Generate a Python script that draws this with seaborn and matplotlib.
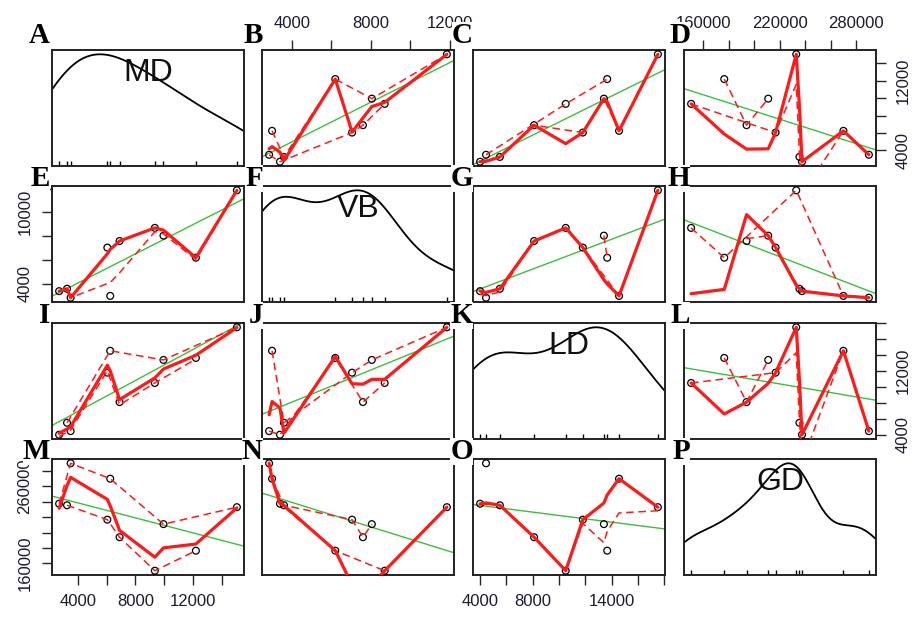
import numpy as np
import pandas as pd
import seaborn as sns
import matplotlib.pyplot as plt

MD = [2700, 3250, 3500, 6050, 6250, 6900, 9350, 9950, 12200, 15050]
VB = [3400, 3600, 2850, 7050, 3000, 7600, 8700, 8050, 6200, 11850]
LD = [4000, 5500, 4450, 11800, 14550, 8100, 10500, 13400, 13650, 17500]
GD = [237500, 235500, 290000, 216800, 270000, 194000, 150500, 211000, 176500, 233000]

names = ["MD", "VB", "LD", "GD"]
letters = "ABCDEFGHIJKLMNOP"

tick_vals = {
    "MD": list(range(4000, 14001, 2000)),
    "VB": list(range(4000, 12001, 2000)),
    "LD": list(range(4000, 18001, 2000)),
    "GD": list(range(160000, 280001, 20000)),
}
# labels shown on the column axes (bottom/top) and on the row axes (left/right)
col_labels = {"MD": [4000, 8000, 12000], "VB": [4000, 8000, 12000],
              "LD": [4000, 8000, 14000], "GD": [160000, 220000, 280000]}
row_labels = {"MD": [4000, 12000], "VB": [4000, 10000],
              "LD": [4000, 12000], "GD": [160000, 260000]}

df = pd.DataFrame({"MD": MD, "VB": VB, "LD": LD, "GD": GD})

RED = "#ff1a1a"
GREEN = "#3cc03c"
INK = "#1c1c2c"


def nrd0(x):
    iqr = np.subtract(*np.percentile(x, [75, 25]))
    return 0.9 * min(np.std(x, ddof=1), iqr / 1.34) * len(x) ** -0.2


def local_fit(x, y, x0, span, degree, w_extra):
    d = np.abs(x - x0)
    q = max(int(np.floor(len(x) * span)), 1)
    ds = np.sort(d)
    h = ds[q - 1]
    if h <= 0 or np.count_nonzero(d < h) <= degree:
        h = ds[min(q, len(x) - 1)] * 1.0001
    w = np.clip(1 - (d / h) ** 3, 0, None) ** 3 * w_extra
    # scaled design keeps the small weighted fits well conditioned
    X = np.vander((x - x0) / h, degree + 1, increasing=True)
    sw = np.sqrt(w)
    beta = np.linalg.lstsq(X * sw[:, None], y * sw, rcond=1e-10)[0]
    return beta[0]


def robust_weights(res):
    cmad = 6 * np.median(np.abs(res))
    a = np.abs(res)
    w = np.clip(1 - (res / max(cmad, 1e-300)) ** 2, 0, None) ** 2
    w[a <= 0.001 * cmad] = 1.0
    w[a > 0.999 * cmad] = 0.0
    return w


def loess(x, y, span=0.5, degree=2, fits=4):
    rob = np.ones(len(x))
    for it in range(fits):
        fitted = np.array([local_fit(x, y, v, span, degree, rob) for v in x])
        res = y - fitted
        res[np.abs(res) < 1e-7 * np.ptp(y)] = 0.0
        if it == fits - 1 or not np.any(res):
            break
        rob = robust_weights(res)
    return fitted, res


def spread(x, fitted, res, sign, span=0.5):
    m = res > 0 if sign > 0 else res <= 0
    xs, r2 = x[m], res[m] ** 2
    if len(xs) < 2:
        return None
    v = np.array([local_fit(xs, r2, t, span, 0, np.ones(len(xs))) for t in xs])
    return pd.DataFrame({"x": xs, "y": fitted[m] + sign * np.sqrt(np.clip(v, 0, None))})


sns.set_style("white")
plt.rcParams["font.family"] = ["Liberation Sans", "DejaVu Sans"]

W, H = 917, 621
fig = plt.figure(figsize=(W / 100, H / 100), dpi=100)
col_x = [52, 262, 473, 684]
row_y = [50, 186, 323, 459]
letter_dx = [-2, 1, 0, 6]
pw, ph = 192, 116


def lims(v):
    lo, hi = min(v), max(v)
    p = 0.04 * (hi - lo)
    return lo - p, hi + p


for r, yv in enumerate(names):
    for c, xv in enumerate(names):
        ax = fig.add_axes([col_x[c] / W, 1 - (row_y[r] + ph) / H, pw / W, ph / H])
        x = df[xv].to_numpy(float)
        xlim = lims(x)
        if r == c:
            bw = nrd0(x)
            sns.kdeplot(x=x, bw_method=bw / np.std(x, ddof=1), cut=10, clip=xlim,
                        gridsize=300, color="black", lw=1.3, ax=ax)
            dmax = ax.lines[-1].get_ydata().max()
            ax.set_ylim(-0.04 * dmax, 1.04 * dmax)
            sns.rugplot(x=x, height=0.045, color="black", lw=0.9, ax=ax)
            ax.text(0.5, 0.8, yv, transform=ax.transAxes, ha="center", va="center",
                    fontsize=23, color="#111111")
        else:
            y = df[yv].to_numpy(float)
            ax.set_ylim(lims(y))
            order = np.argsort(x)
            xs, ys = x[order], y[order]
            b1, b0 = np.polyfit(x, y, 1)
            ax.axline((0, b0), slope=b1, color=GREEN, lw=1.0, zorder=2)
            sns.scatterplot(x=x, y=y, marker="o", s=24, facecolors="none",
                            edgecolor="black", linewidth=0.9, ax=ax, zorder=3)
            fitted, res = loess(xs, ys)
            for sign in (1, -1):
                sp = spread(xs, fitted, res, sign)
                if sp is not None:
                    sns.lineplot(data=sp, x="x", y="y", color=RED, lw=1.1,
                                 linestyle=(0, (5, 3)), estimator=None, ax=ax, zorder=4)
            sns.lineplot(x=xs, y=fitted, color=RED, lw=2.3, estimator=None, ax=ax, zorder=5)
        ax.set_xlim(xlim)
        ax.set_xlabel("")
        ax.set_ylabel("")
        ax.set_xticks([])
        ax.set_yticks([])
        for sp_ in ax.spines.values():
            sp_.set_linewidth(1.4)
            sp_.set_color("#222222")

        # outer axes in the R pairs style
        if (r == 3 and c in (0, 2)) or (r == 0 and c in (1, 3)):
            tv = tick_vals[xv]
            ax.set_xticks(tv)
            ax.set_xticklabels([str(t) if t in col_labels[xv] else "" for t in tv])
            top = r == 0
            ax.tick_params(axis="x", bottom=not top, labelbottom=not top, top=top,
                           labeltop=top, length=7, width=1, pad=7, labelsize=12,
                           labelcolor=INK, direction="out")
        if r != c and ((c == 0 and r in (1, 3)) or (c == 3 and r in (0, 2))):
            tv = tick_vals[yv]
            ax.set_yticks(tv)
            ax.set_yticklabels([str(t) if t in row_labels[yv] else "" for t in tv],
                               rotation=90, va="center")
            right = c == 3
            ax.tick_params(axis="y", left=not right, labelleft=not right, right=right,
                           labelright=right, length=7, width=1, pad=7, labelsize=12,
                           labelcolor=INK, direction="out")

        fig.text((col_x[c] + letter_dx[c]) / W, 1 - (row_y[r] - (7 if r == 0 else 0)) / H,
                 letters[r * 4 + c], ha="right", va="baseline", fontsize=21,
                 fontweight="bold", family="Liberation Serif", color="black",
                 zorder=10, bbox=dict(boxstyle="square,pad=0.0", fc="white", ec="none"))

fig.savefig("out.png", dpi=100)
